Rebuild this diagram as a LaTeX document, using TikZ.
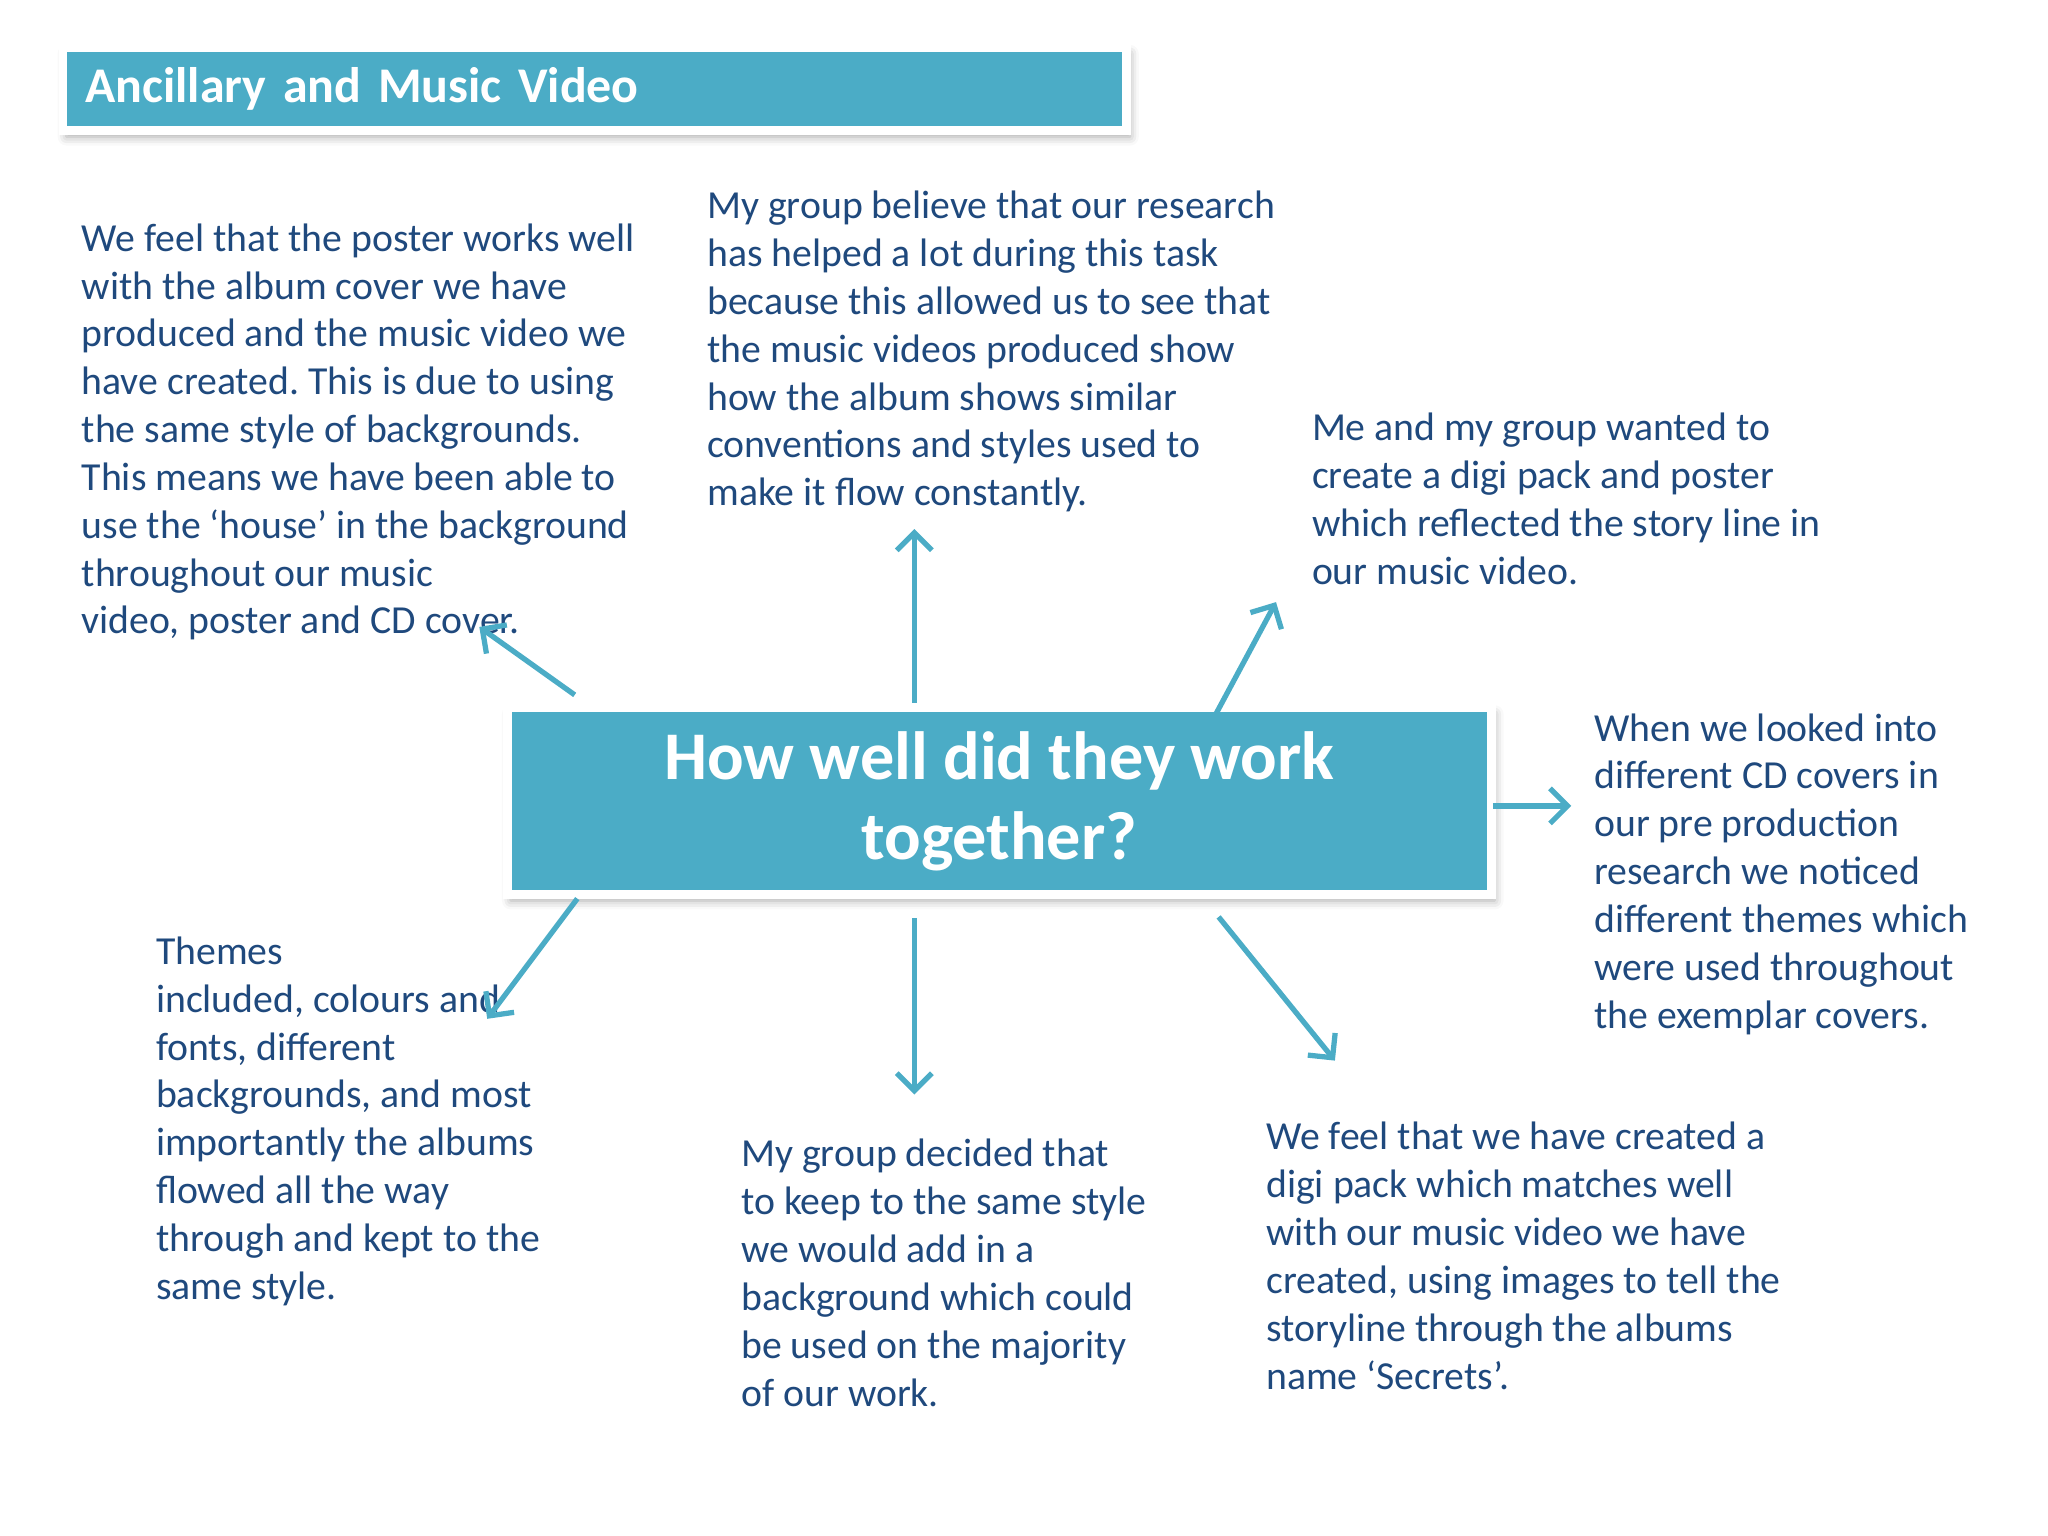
\documentclass[tikz,border=0pt]{standalone}
\usepackage{fontspec}
\setmainfont{Carlito}
\usetikzlibrary{arrows.meta,shadows.blur}
\definecolor{boxblue}{HTML}{4BACC6}
\definecolor{textblue}{HTML}{1F497D}

\begin{document}
\frenchspacing
\begin{tikzpicture}[x=0.01cm,y=-0.01cm,
    bluebox/.style={fill=boxblue, draw=white, line width=2.5pt, text=white,
      blur shadow={shadow xshift=1pt, shadow yshift=-1.8pt, shadow blur radius=2.5pt, shadow opacity=35}},
    bodytext/.style={anchor=north west, inner sep=0pt, align=left, text=textblue,
      font=\fontsize{11.3}{13.6}\selectfont},
    link/.style={draw=boxblue, line width=1.5pt, -{Straight Barb[length=5pt,width=10pt]}}]
        \useasboundingbox (0,0) rectangle (2048,1536);
        % title bar
        \node[bluebox, anchor=north west, minimum width=10.63cm, minimum height=0.83cm,
          text width=10.18cm, inner xsep=0.225cm, align=left,
          font=\fontsize{14.2}{17}\selectfont\bfseries] (title) at (58.5,43) {Ancillary and Music Video};
        % central question
        \node[bluebox, minimum width=9.835cm, minimum height=1.865cm, align=center,
          font=\fontsize{19.4}{22.7}\selectfont\bfseries] (question) at (999.25,801) {How well did they work\\together?};
        % surrounding notes
        \node[bodytext] (poster) at (81,223) {We feel that the poster works well\\with the album cover we have\\produced and the music video we\\have created. This is due to using\\the same style of backgrounds.\\This means we have been able to\\use the ‘house’ in the background\\throughout our music\\video, poster and CD cover.};
        \node[bodytext] (research) at (706.6,190.4) {My group believe that our research\\has helped a lot during this task\\because this allowed us to see that\\the music videos produced show\\how the album shows similar\\conventions and styles used to\\make it flow constantly.};
        \node[bodytext] (digipack) at (1311.3,412.4) {Me and my group wanted to\\create a digi pack and poster\\which reflected the story line in\\our music video.};
        \node[bodytext] (covers) at (1593.5,712.8) {When we looked into\\different CD covers in\\our pre production\\research we noticed\\different themes which\\were used throughout\\the exemplar covers.};
        \node[bodytext] (themes) at (155.4,936.2) {Themes\\included, colours and\\fonts, different\\backgrounds, and most\\importantly the albums\\flowed all the way\\through and kept to the\\same style.};
        \node[bodytext] (background) at (740.6,1138.6) {My group decided that\\to keep to the same style\\we would add in a\\background which could\\be used on the majority\\of our work.};
        \node[bodytext] (secrets) at (1265.6,1121.6) {We feel that we have created a\\digi pack which matches well\\with our music video we have\\created, using images to tell the\\storyline through the albums\\name ‘Secrets’.};
        % arrows out of the question
        \coordinate (s1) at (574.7,694.9);  \coordinate (e1) at (479.3,626.9);
        \coordinate (s2) at (914.3,702.7);  \coordinate (e2) at (914.3,529);
        \coordinate (s3) at (1201.6,740.6); \coordinate (e3) at (1276,602.1);
        \coordinate (s4) at (1492.9,805.9); \coordinate (e4) at (1571.3,805.9);
        \coordinate (s5) at (577.3,898.6);  \coordinate (e5) at (487.2,1018.8);
        \coordinate (s6) at (914.3,918.2);  \coordinate (e6) at (914.3,1094.5);
        \coordinate (s7) at (1218.6,916.9); \coordinate (e7) at (1334.9,1060.6);
        \foreach \i in {1,...,7}
            \draw[link] (s\i) -- (e\i);
\end{tikzpicture}
\end{document}
